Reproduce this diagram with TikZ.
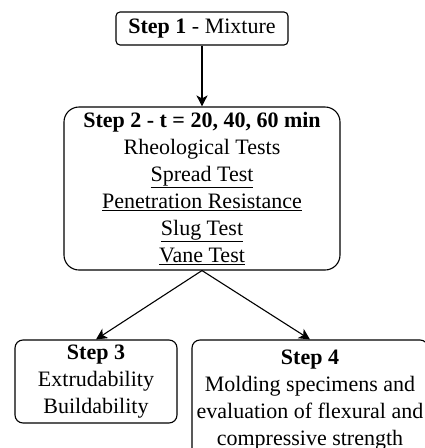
\documentclass[tikz,border=0pt]{standalone}
\usepackage{fontspec}
\setmainfont{Liberation Serif}
\usetikzlibrary{arrows.meta}

\begin{document}
\begin{tikzpicture}[x=1pt,y=-1pt,line width=1.1pt,>={Stealth[length=11pt,width=11pt,inset=3pt]},
  box/.style={draw,align=center,inner sep=0pt,font=\fontsize{22}{27}\selectfont}]
\useasboundingbox (0,0) rectangle (425,448);
\clip (0,0) rectangle (425,448);
\node [box,rounded corners=4pt,minimum width=172pt,minimum height=33pt] (S1) at (202,28.5) {\textbf{Step 1} - Mixture};
\node [box,rounded corners=15pt,minimum width=276pt,minimum height=163pt] (S2) at (202,188.5)
  {\textbf{Step 2 - t = 20, 40, 60 min}\\ Rheological Tests\\ \underline{Spread Test}\\
   \underline{Penetration Resistance}\\ \underline{Slug Test}\\ \underline{Vane Test}};
\node [box,rounded corners=8pt,minimum width=162pt,minimum height=83pt] (S3) at (96,381.5)
  {\textbf{Step 3}\\ Extrudability\\ Buildability};
\node [box,rounded corners=8pt,minimum width=236pt,minimum height=120pt] (S4) at (310,400)
  {\textbf{Step 4}\\ Molding specimens and\\ evaluation of flexural and\\ compressive strength};
\draw [->] (S1) -- (S2);
\draw [->] (S2.south) -- (S3.north);
\draw [->] (S2.south) -- (S4.north);
\end{tikzpicture}
\end{document}
